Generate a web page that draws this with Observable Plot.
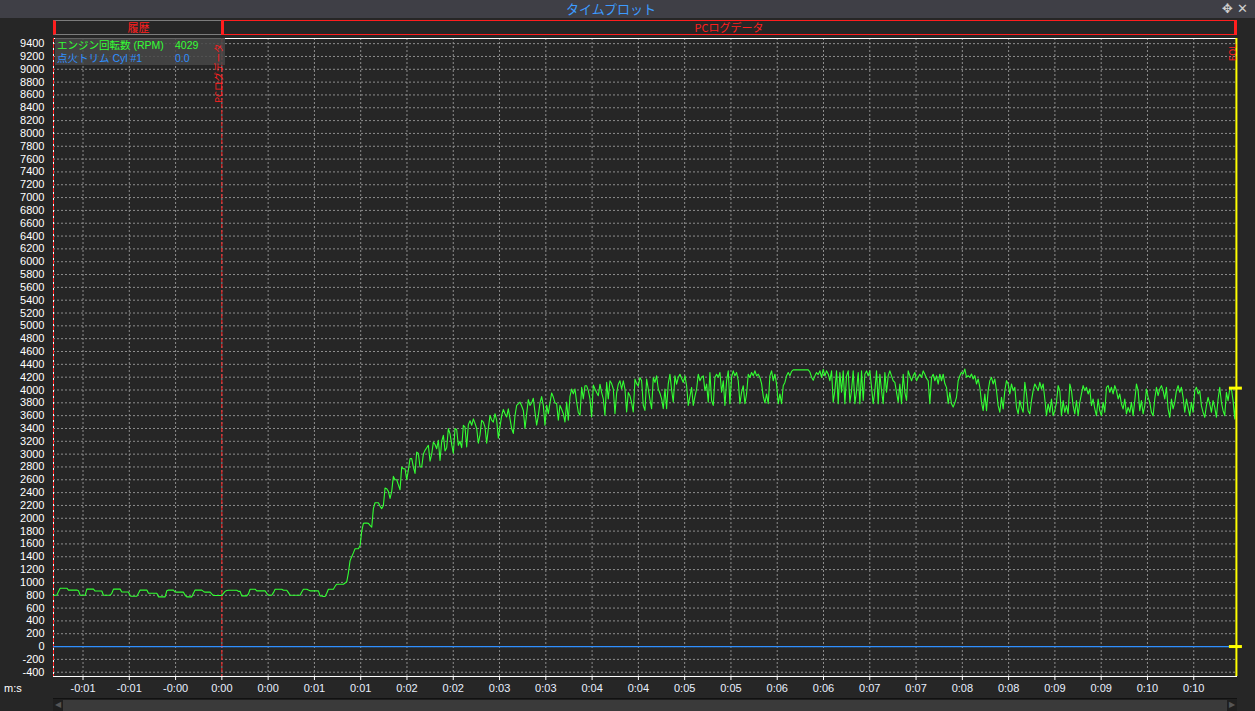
<!DOCTYPE html>
<html>
<head>
<meta charset="utf-8">
<script src="https://cdn.jsdelivr.net/npm/d3@7"></script>
<script src="https://cdn.jsdelivr.net/npm/@observablehq/plot@0.6"></script>
<style>
  html, body { margin: 0; padding: 0; background: #262626; }
  body { width: 1255px; height: 711px; overflow: hidden; font-family: "Noto Sans CJK JP", "Noto Sans", sans-serif; }
  #wrap { position: relative; width: 1255px; height: 711px; }
  .abs { position: absolute; box-sizing: border-box; }
  #titlebar { left: 0; top: 0; width: 1255px; height: 18px; background: #3f3f46; }
  #title { left: 0; top: 0; width: 1222px; height: 18px; line-height: 18px; text-align: center; color: #3d9bff; font-size: 13px; }
  #icons { left: 1222px; top: 0; width: 33px; height: 18px; line-height: 18px; color: #cfcfcf; font-family: "DejaVu Sans"; font-size: 13px; white-space: nowrap; }
  .hbox { top: 20px; height: 15px; line-height: 13px; text-align: center; color: #ff1e1e; font-size: 11px; background: #262626; }
  #histBox { left: 53px; width: 169px; border: 1px solid #7c7c7c; border-left: 3px solid #ff1e1e; }
  #logBox { left: 221px; width: 1016px; border: 1px solid #ff1e1e; border-left: 3px solid #ff1e1e; border-right: 3px solid #ff1e1e; }
  #chart, #overlay { left: 0; top: 18px; }
  #legend { left: 55px; top: 38px; width: 170px; height: 27px; background: rgba(72,72,72,0.85);
            font-family: "Liberation Sans", "Noto Sans CJK JP", sans-serif; font-size: 10.5px; line-height: 12px; }
  .lrow { position: absolute; left: 0; height: 12px; width: 170px; white-space: nowrap; overflow: visible; }
  .lname, .lval { position: absolute; top: 0; display: inline-block; height: 12px; line-height: 12px; overflow: visible; }
  .lname { left: 2px; }
  .lval { left: 120px; }
  #msLabel { left: 4px; top: 682px; color: #ffffff; font-family: "Liberation Sans", Arial, sans-serif; font-size: 11px; }
  #scroll { left: 53px; top: 698px; width: 1184px; height: 13px; background: #1f1f1f; border-top: 1px solid #111; }
  #thumb { left: 63px; top: 700px; width: 1164px; height: 11px; background: #3a3a3a; }
  .arrow { top: 699px; height: 12px; line-height: 12px; color: #555; font-size: 8px; font-family: "DejaVu Sans"; }
</style>
</head>
<body>
<div id="wrap">
  <div id="titlebar" class="abs"></div>
  <div id="title" class="abs"></div>
  <div id="icons" class="abs">✥ ✕</div>
  <div id="histBox" class="abs hbox"></div>
  <div id="logBox" class="abs hbox"></div>
  <div id="chart" class="abs"></div>
  <div id="legend" class="abs"></div>
  <div id="overlay" class="abs"></div>
  <div id="msLabel" class="abs"></div>
  <div id="scroll" class="abs"></div>
  <div id="thumb" class="abs"></div>
  <div class="abs arrow" style="left:55px">◀</div>
  <div class="abs arrow" style="left:1229px">▶</div>
</div>
<script>
// ---------- texts ----------
const titleText = "タイムプロット";
const headerLabels = ["履歴", "PCログデータ"];
const xAxisName = "m:s";

// ---------- series: legend ----------
const seriesNames = ["エンジン回転数 (RPM)", "点火トリム Cyl #1"];
const seriesColors = ["#33ff33", "#2f8fff"];
const cursorValues = [4029, 0.0];
const cursorLabels = ["4029", "0.0"];

// ---------- log sampling ----------
const logStart = -1.819;   // s, first logged sample
const logStep = 0.018;     // s, sample period

const rpm = [
  800, 800, 800, 860, 910, 910, 910, 910, 910, 880,
  880, 880, 880, 880, 880, 870, 800, 800, 800, 800,
  895, 895, 895, 895, 895, 865, 865, 865, 865, 865,
  800, 800, 800, 800, 800, 830, 895, 895, 895, 895,
  895, 850, 850, 850, 850, 850, 790, 785, 785, 785,
  785, 830, 880, 880, 880, 880, 880, 830, 830, 830,
  830, 830, 830, 775, 775, 775, 775, 775, 870, 880,
  880, 880, 880, 850, 848, 848, 848, 848, 848, 800,
  775, 775, 775, 775, 830, 880, 880, 880, 880, 880,
  860, 848, 848, 848, 848, 820, 795, 795, 795, 795,
  795, 795, 830, 860, 875, 878, 878, 878, 878, 878,
  878, 860, 860, 790, 790, 790, 790, 820, 894, 894,
  894, 894, 868, 868, 868, 868, 868, 868, 830, 800,
  800, 800, 840, 894, 894, 894, 894, 894, 878, 878,
  878, 840, 800, 800, 800, 800, 800, 800, 800, 850,
  894, 894, 894, 880, 868, 868, 868, 868, 868, 868,
  790, 790, 780, 780, 830, 894, 894, 894, 894, 940,
  972, 972, 972, 972, 972, 990, 1010, 1150, 1340, 1400,
  1460, 1525, 1525, 1525, 1570, 1800, 1920, 1925, 1925, 1920,
  1890, 1860, 2150, 2242, 2242, 2242, 2190, 2150, 2200, 2470,
  2460, 2420, 2310, 2420, 2653, 2600, 2600, 2520, 2445, 2800,
  2772, 2772, 2600, 2750, 2930, 2930, 2800, 2700, 3032, 3010,
  2800, 2800, 3000, 3059, 3100, 3137, 2890, 3000, 3188, 3150,
  3085, 3214, 2900, 3200, 3293, 3050, 3100, 3397, 3318, 3150,
  3010, 3400, 3380, 3137, 3200, 3100, 3450, 3420, 3110, 3460,
  3520, 3450, 3550, 3480, 3400, 3170, 3300, 3528, 3500, 3420,
  3170, 3400, 3605, 3530, 3500, 3630, 3528, 3250, 3430, 3600,
  3697, 3630, 3580, 3707, 3550, 3400, 3323, 3600, 3759, 3785,
  3810, 3750, 3680, 3400, 3630, 3851, 3760, 3800, 3872, 3650,
  3451, 3600, 3800, 3897, 3760, 3451, 3760, 3630, 3800, 3954,
  3890, 3800, 3785, 3528, 3760, 3700, 3630, 3500, 3810, 3528,
  3900, 4015, 3940, 4015, 3810, 3650, 3605, 4040, 3860, 4065,
  4065, 3990, 3860, 3580, 4077, 4015, 3960, 3910, 4090, 3960,
  3860, 3605, 4118, 3860, 4144, 4100, 4015, 3630, 3950, 4090,
  4144, 4015, 4144, 4015, 3656, 3960, 3910, 3800, 3656, 4169,
  4100, 4065, 4195, 4144, 3759, 3682, 4169, 4015, 3850, 3707,
  4195, 4118, 4220, 4015, 3950, 3860, 3707, 4015, 3707, 4100,
  4246, 4000, 3810, 4220, 4090, 4195, 4246, 4180, 4118, 4220,
  4065, 3759, 3900, 4040, 3759, 3900, 4015, 4246, 4144, 4200,
  4220, 3990, 4092, 3810, 4272, 3836, 3759, 4195, 4246, 4200,
  4272, 3964, 4144, 3759, 4144, 4298, 3785, 4200, 4298, 4221,
  4272, 4144, 3785, 3964, 4067, 3785, 3938, 4246, 4195, 4272,
  4221, 4298, 4221, 4246, 4195, 4100, 3900, 3800, 3938, 3785,
  4221, 4298, 4144, 4246, 4092, 3785, 3938, 3785, 4067, 4118,
  4221, 4272, 4221, 4290, 4313, 4313, 4313, 4313, 4313, 4313,
  4313, 4313, 4313, 4313, 4280, 4200, 4150, 4220, 4272, 4240,
  4298, 4195, 4323, 4221, 4298, 4246, 4144, 4298, 3810, 3990,
  4298, 3785, 4272, 3964, 4298, 3785, 4221, 4298, 3810, 3990,
  4298, 3785, 3990, 4272, 3785, 4298, 3836, 4246, 4298, 4221,
  4298, 4041, 3785, 3990, 4298, 3785, 4246, 3990, 3785, 4272,
  3964, 4221, 4298, 4221, 4144, 4118, 3964, 3810, 4092, 3785,
  4246, 3964, 3836, 4298, 4221, 4144, 4221, 4272, 4144, 4200,
  4246, 4195, 4298, 4246, 4180, 4144, 3785, 4195, 4246, 4144,
  4221, 4092, 4246, 4144, 4246, 4100, 4041, 3785, 3964, 3785,
  3733, 3800, 3887, 4144, 4221, 4276, 4250, 4328, 4198, 4224,
  4198, 4250, 4172, 4224, 4094, 4172, 4042, 3808, 3678, 3938,
  3678, 3990, 4146, 4198, 4094, 4172, 3990, 3756, 3652, 3886,
  3704, 3990, 4146, 4094, 3938, 4094, 3990, 4042, 3730, 3626,
  3834, 3730, 3652, 4120, 3938, 3678, 3626, 3834, 3990, 4094,
  4042, 3990, 4120, 4016, 4094, 3860, 3600, 3782, 3652, 3860,
  3600, 3678, 3808, 4068, 3990, 3600, 3834, 3652, 3756, 3626,
  4094, 3990, 3756, 3626, 3834, 3600, 3808, 3938, 4068, 3990,
  4042, 3938, 4016, 3756, 3860, 3704, 3600, 3860, 3678, 3600,
  3808, 3652, 4042, 4068, 3964, 4042, 3938, 4068, 3990, 3860,
  3938, 3782, 3704, 3860, 3626, 3730, 3652, 3808, 3600, 3834,
  4094, 3990, 3678, 3834, 3626, 3756, 4016, 3886, 3808, 3652,
  3600, 3860, 4042, 3912, 4016, 4068, 3990, 3860, 4042, 3704,
  3574, 3860, 3704, 3808, 3990, 4068, 3964, 4042, 3886, 3652,
  3860, 3730, 3600, 3808, 3652, 3990, 4042, 3938, 3990, 3756,
  3652, 3574, 3756, 3886, 3782, 3652, 3834, 3730, 3574, 3860,
  4042, 3808, 3678, 3600, 3964, 3834, 4016, 4016, 3834, 3548,
  4029
];

// ignition trim Cyl #1 (flat at 0.0 over the whole log)
const trimValues = [0.0, 0.0];

// ---------- axes ----------
const xTicks = [-1.5, -1, -0.5, 0, 0.5, 1, 1.5, 2, 2.5, 3, 3.5, 4, 4.5, 5, 5.5, 6, 6.5, 7, 7.5, 8, 8.5, 9, 9.5, 10, 10.5];
const xTickLabels = ["-0:01", "-0:01", "-0:00", "0:00", "0:00", "0:01", "0:01", "0:02", "0:02", "0:03", "0:03", "0:04", "0:04",
  "0:05", "0:05", "0:06", "0:06", "0:07", "0:07", "0:08", "0:08", "0:09", "0:09", "0:10", "0:10"];
const yTicks = [-400, -200, 0, 200, 400, 600, 800, 1000, 1200, 1400, 1600, 1800, 2000, 2200, 2400, 2600, 2800, 3000,
  3200, 3400, 3600, 3800, 4000, 4200, 4400, 4600, 4800, 5000, 5200, 5400, 5600, 5800, 6000, 6200, 6400, 6600,
  6800, 7000, 7200, 7400, 7600, 7800, 8000, 8200, 8400, 8600, 8800, 9000, 9200, 9400];
const xDomain = [-1.819, 10.962];
const yDomain = [-467, 9480];

// ---------- derived tables ----------
const rpmSeries = rpm.map((v, i) => ({t: logStart + i * logStep, v}));
const logEnd = rpmSeries[rpmSeries.length - 1].t;
const trimSeries = [{t: logStart, v: trimValues[0]}, {t: logEnd, v: trimValues[1]}];
const markers = [{t: 0, label: "PCログデータ"}, {t: logEnd, label: "EOL"}];
const cursorMarks = cursorValues.map(v => ({t: logEnd, v}));

// ---------- HTML chrome ----------
document.getElementById("title").textContent = titleText;
document.getElementById("histBox").textContent = headerLabels[0];
document.getElementById("logBox").textContent = headerLabels[1];
document.getElementById("msLabel").textContent = xAxisName;
const legend = document.getElementById("legend");
seriesNames.forEach((name, i) => {
  const row = document.createElement("div");
  row.className = "lrow";
  row.style.top = (1 + i * 13) + "px";
  row.style.color = seriesColors[i];
  const n = document.createElement("span"); n.className = "lname"; n.textContent = name;
  const v = document.createElement("span"); v.className = "lval"; v.textContent = cursorLabels[i];
  row.append(n, v);
  legend.append(row);
});

// ---------- chart ----------
const frameOpts = {
  width: 1255,
  height: 693,
  marginLeft: 53,
  marginRight: 19,
  marginTop: 20,
  marginBottom: 35,
  style: {background: "transparent", color: "#ffffff", fontFamily: "'Liberation Sans', Arial, sans-serif", fontSize: "11px", overflow: "visible"}
};
const grid = {stroke: "#8e8e8e", strokeOpacity: 1, strokeDasharray: "2,2"};
const chart = Plot.plot({
  ...frameOpts,
  x: {domain: xDomain},
  y: {domain: yDomain},
  marks: [
    Plot.gridX(xTicks, grid),
    Plot.gridY(yTicks, grid),
    Plot.axisY(yTicks, {tickSize: 0, tickPadding: 9, fill: "#ffffff", fontSize: 11, label: null,
      tickFormat: d => String(d)}),
    Plot.axisX(xTicks, {tickSize: 4, tickPadding: 4, stroke: "#ffffff", fill: "#e8f0ff", fontSize: 11, label: null,
      tickFormat: d => xTickLabels[xTicks.indexOf(d)]}),
    Plot.frame({stroke: "#ffffff"}),
    Plot.ruleX([logStart, 0], {stroke: "#ff2020", strokeDasharray: "4,2"}),
    Plot.line(trimSeries, {x: "t", y: "v", stroke: seriesColors[1], strokeWidth: 1.2}),
    Plot.line(rpmSeries, {x: "t", y: "v", stroke: seriesColors[0], strokeWidth: 1.1}),
    Plot.ruleX([logEnd], {stroke: "#ffff00", strokeWidth: 2}),
    Plot.ruleY(cursorMarks, {y: "v", x1: "t", x2: "t", insetLeft: -7, insetRight: -6, stroke: "#ffff00", strokeWidth: 3})
  ]
});
document.getElementById("chart").append(chart);

// marker labels, drawn on a second layer above the legend box (same scales)
const overlay = Plot.plot({
  ...frameOpts,
  x: {domain: xDomain, axis: null},
  y: {domain: yDomain, axis: null},
  marks: [
    Plot.text(markers, {x: "t", text: "label", frameAnchor: "top", rotate: -90, textAnchor: "end",
      dx: -7, dy: 5, fill: "#ff2020", fontSize: 9.5, fontFamily: "'Noto Sans CJK JP'"})
  ]
});
document.getElementById("overlay").append(overlay);
</script>
</body>
</html>
